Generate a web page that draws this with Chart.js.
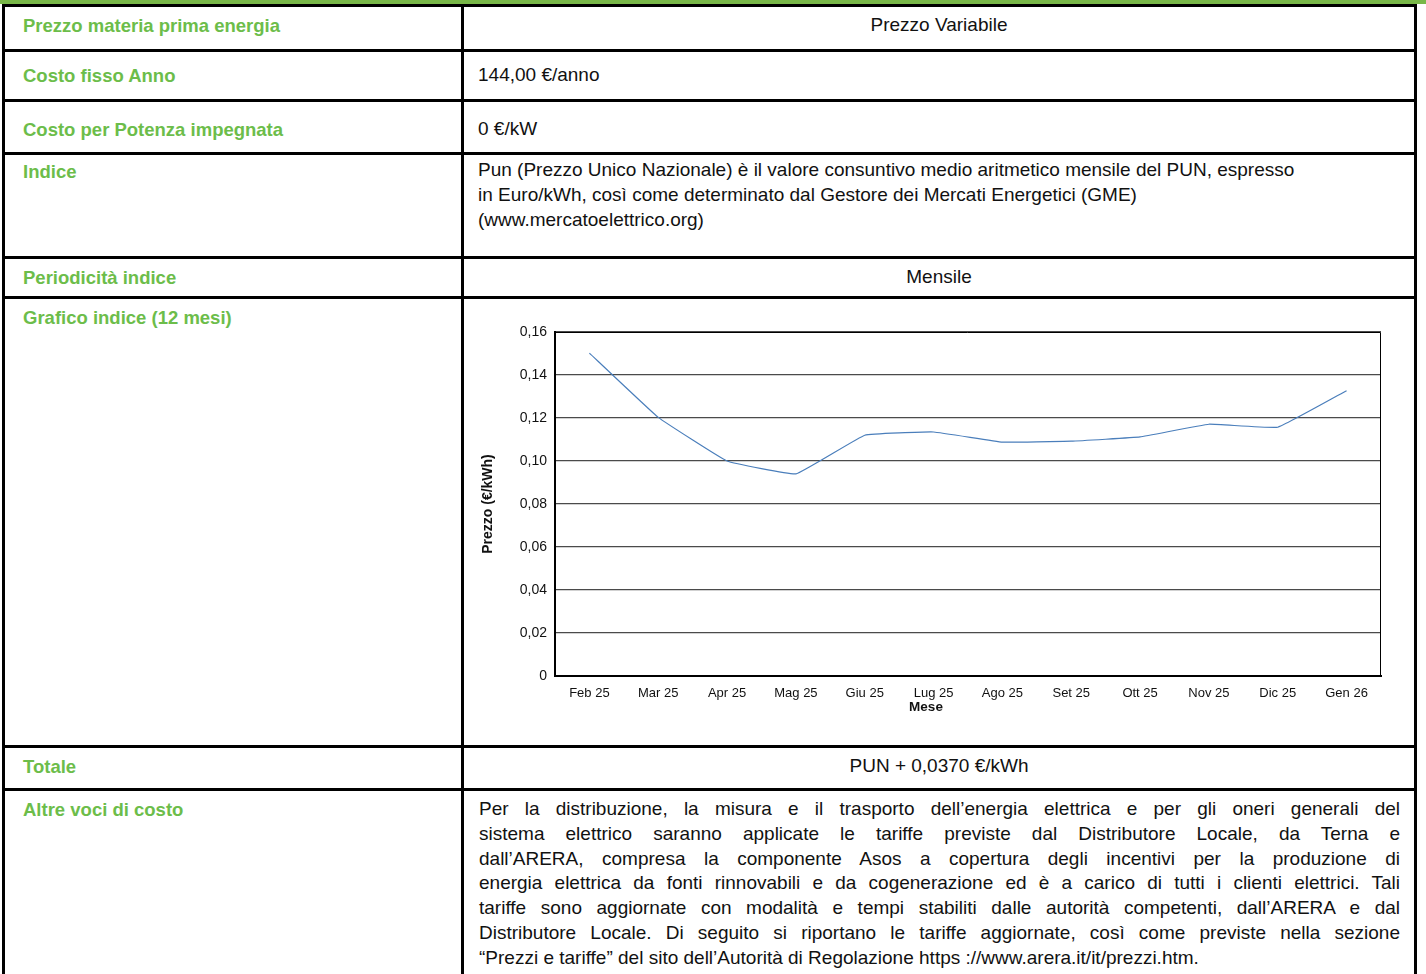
<!DOCTYPE html>
<html>
<head>
<meta charset="utf-8">
<script src="https://cdn.jsdelivr.net/npm/chart.js@4"></script>
<style>
  body { margin: 0; background: #fff; font-family: "Liberation Sans", Arial, sans-serif; width: 1426px; height: 974px; overflow: hidden; position: relative; }
  .topbar { position: absolute; left: 0; top: 0; width: 1426px; height: 4px; background: #78b748; }
  .grid { position: absolute; left: 2px; top: 4px; width: 1415px; background: #000; padding: 3px; box-sizing: border-box;
          display: grid; grid-template-columns: 456px 950px; column-gap: 3px; row-gap: 3px;
          grid-template-rows: 42px 47px 50px 101px 37px 446px 40px 200px; }
  .grid > div { background: #fff; box-sizing: border-box; font-size: 19px; line-height: 24.8px; color: #111; }
  .grid > .lab { color: #6cbd4a; font-weight: bold; font-size: 18.5px; padding-left: 18px; }
  .grid > .val { padding-left: 14px; padding-right: 14px; }
  .grid > .c { text-align: center; padding-left: 0; padding-right: 0; }
  .j div { text-align: justify; text-align-last: justify; }
  .j div.last { text-align-last: left; }
  #chartCell { position: relative; padding: 0; }
  #chartCell canvas { position: absolute; left: 0; top: 0; }
</style>
</head>
<body>
<div class="topbar"></div>
<div class="grid">
  <div class="lab" style="padding-top:7px">Prezzo materia prima energia</div>
  <div class="val c" style="padding-top:6px">Prezzo Variabile</div>

  <div class="lab" style="padding-top:12px">Costo fisso Anno</div>
  <div class="val" style="padding-top:11px">144,00 €/anno</div>

  <div class="lab" style="padding-top:16px">Costo per Potenza impegnata</div>
  <div class="val" style="padding-top:15px">0 €/kW</div>

  <div class="lab" style="padding-top:5px">Indice</div>
  <div class="val" style="padding-top:3px">Pun (Prezzo Unico Nazionale) è il valore consuntivo medio aritmetico mensile del PUN, espresso<br>in Euro/kWh, così come determinato dal Gestore dei Mercati Energetici (GME)<br>(www.mercatoelettrico.org)</div>

  <div class="lab" style="padding-top:7px">Periodicità indice</div>
  <div class="val c" style="padding-top:6px">Mensile</div>

  <div class="lab" style="padding-top:7px">Grafico indice (12 mesi)</div>
  <div id="chartCell"><canvas id="pun-chart" width="950" height="446"></canvas></div>

  <div class="lab" style="padding-top:7px">Totale</div>
  <div class="val c" style="padding-top:6px">PUN + 0,0370 €/kWh</div>

  <div class="lab" style="padding-top:7px">Altre voci di costo</div>
  <div class="val j" style="padding-top:6px;padding-left:15px">
    <div>Per la distribuzione, la misura e il trasporto dell’energia elettrica e per gli oneri generali del</div>
    <div>sistema elettrico saranno applicate le tariffe previste dal Distributore Locale, da Terna e</div>
    <div>dall’ARERA, compresa la componente Asos a copertura degli incentivi per la produzione di</div>
    <div>energia elettrica da fonti rinnovabili e da cogenerazione ed è a carico di tutti i clienti elettrici. Tali</div>
    <div>tariffe sono aggiornate con modalità e tempi stabiliti dalle autorità competenti, dall’ARERA e dal</div>
    <div>Distributore Locale. Di seguito si riportano le tariffe aggiornate, così come previste nella sezione</div>
    <div class="last">“Prezzi e tariffe” del sito dell’Autorità di Regolazione https ://www.arera.it/it/prezzi.htm.</div>
  </div>
</div>

<script>
// Dati indice PUN (ultimi 12 mesi)
const months = ['Feb 25', 'Mar 25', 'Apr 25', 'Mag 25', 'Giu 25', 'Lug 25', 'Ago 25', 'Set 25', 'Ott 25', 'Nov 25', 'Dic 25', 'Gen 26'];
const punValues = [0.1502, 0.1203, 0.1000, 0.0940, 0.1120, 0.1135, 0.1088, 0.1092, 0.1112, 0.1171, 0.1157, 0.1327];
const yTicks = [0, 0.02, 0.04, 0.06, 0.08, 0.10, 0.12, 0.14, 0.16];
const xTitle = 'Mese';

// Bordo superiore/destro dell'area e titolo asse X (spostato a sinistra come nell'originale)
const frame = {
    id: 'frame',
    afterDraw(chart) {
        const a = chart.chartArea;
        const ctx = chart.ctx;
        ctx.save();
        ctx.strokeStyle = '#000';
        ctx.lineWidth = 1;
        ctx.beginPath();
        ctx.moveTo(a.left, a.top + 0.5);
        ctx.lineTo(a.right - 0.5, a.top + 0.5);
        ctx.lineTo(a.right - 0.5, a.bottom);
        ctx.stroke();
        ctx.fillStyle = '#111';
        ctx.font = 'bold 13.5px "Liberation Sans"';
        ctx.textAlign = 'center';
        ctx.textBaseline = 'middle';
        ctx.fillText(xTitle, (a.left + a.right) / 2 - 42, a.bottom + 31);
        ctx.restore();
    }
};

const ctx = document.getElementById('pun-chart').getContext('2d');
new Chart(ctx, {
    type: 'line',
    data: {
        labels: months,
        datasets: [{
            data: punValues,
            borderColor: '#4a7ebb',
            borderWidth: 1.2,
            pointRadius: 0,
            tension: 0.08,
            fill: false
        }]
    },
    options: {
        responsive: false,
        animation: false,
        layout: { padding: { left: 16, right: 33, top: 33, bottom: 33 } },
        plugins: { legend: { display: false }, tooltip: { enabled: false } },
        scales: {
            x: {
                offset: true,
                grid: { display: false, drawTicks: false },
                border: { color: '#000', width: 2 },
                ticks: { color: '#111', font: { family: 'Liberation Sans', size: 13 }, padding: 10, maxRotation: 0 },
                afterFit: s => { s.height = 36; }
            },
            y: {
                min: 0,
                max: 0.16,
                afterBuildTicks: s => { s.ticks = yTicks.map(v => ({ value: v })); },
                grid: { color: '#4a4a4a', lineWidth: 1.3, drawTicks: false },
                border: { color: '#000', width: 2 },
                ticks: {
                    color: '#111',
                    font: { family: 'Liberation Sans', size: 14 },
                    padding: 8,
                    callback: v => v === 0 ? '0' : v.toFixed(2).replace('.', ',')
                },
                title: { display: true, text: 'Prezzo (€/kWh)', color: '#111', font: { family: 'Liberation Sans', size: 14, weight: 'bold' }, padding: { top: 0, bottom: 0 } },
                afterFit: s => { s.width = 75; }
            }
        }
    },
    plugins: [frame]
});
</script>
</body>
</html>
